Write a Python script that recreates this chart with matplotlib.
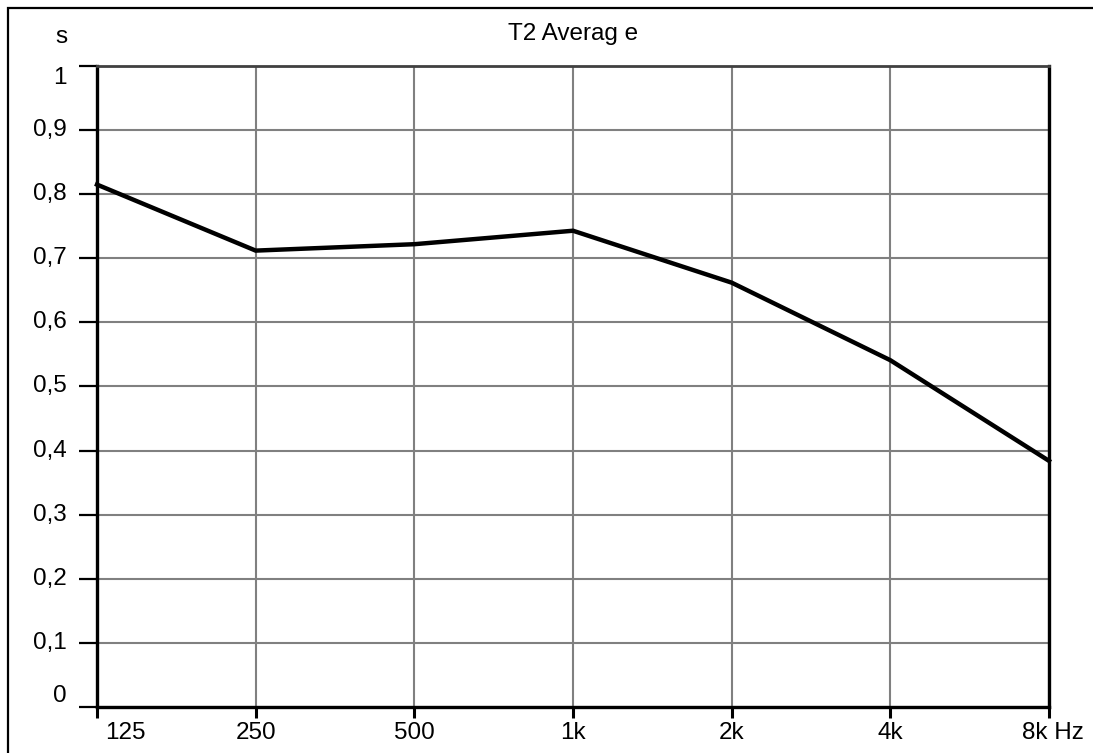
import matplotlib
matplotlib.use("Agg")
import matplotlib.pyplot as plt
from matplotlib.transforms import ScaledTranslation
from matplotlib.patches import Rectangle

plt.rcParams['font.family'] = ['Liberation Sans', 'DejaVu Sans']

# Octave band centre frequencies and averaged T2 reverberation time (s)
bands = ["125", "250", "500", "1k", "2k", "4k", "8k"]
t2_avg = [0.815, 0.712, 0.722, 0.743, 0.662, 0.541, 0.384]
y_ticks = [0, 0.1, 0.2, 0.3, 0.4, 0.5, 0.6, 0.7, 0.8, 0.9, 1.0]
y_tick_labels = ["0", "0,1", "0,2", "0,3", "0,4", "0,5", "0,6", "0,7", "0,8", "0,9", "1"]

W, H, DPI = 1093, 753, 100
FS = 17.5
fig = plt.figure(figsize=(W / DPI, H / DPI), dpi=DPI)
fig.patch.set_facecolor("white")

# outer frame (top and left edges visible)
fig.add_artist(Rectangle((8 / W, -0.1), 1.2, (H - 8) / H + 0.1,
                         transform=fig.transFigure, fill=False,
                         edgecolor="black", linewidth=1.6))

left, right, top, bottom = 97, 1049, 66, 707
ax = fig.add_axes([left / W, (H - bottom) / H, (right - left) / W, (bottom - top) / H])

x = list(range(len(bands)))
ax.set_xlim(0, len(bands) - 1)
ax.set_ylim(0, 1)

ax.set_yticks(y_ticks)
ax.set_yticklabels([])
ax.set_xticks(x)
ax.set_xticklabels([])

ax.grid(True, color="#808080", linewidth=1.5)
ax.set_axisbelow(True)

ax.plot(x, t2_avg, color="black", linewidth=3.2, solid_joinstyle="miter",
        clip_on=False, zorder=5)

for side in ("left", "right", "bottom"):
    ax.spines[side].set_color("black")
    ax.spines[side].set_linewidth(2.4)
ax.spines["top"].set_color("#404040")
ax.spines["top"].set_linewidth(2.0)

ax.tick_params(axis="y", length=13, width=1.6, color="black")
ax.tick_params(axis="x", length=8, width=2.2, color="black")

# y tick labels, end labels nudged to stay inside the plot height
for i, (val, lab) in enumerate(zip(y_ticks, y_tick_labels)):
    dy = 0
    if i == 0:
        dy = 11
    elif i == len(y_ticks) - 1:
        dy = -12
    trans = ax.get_yaxis_transform() + ScaledTranslation(-30 / DPI, dy / DPI, fig.dpi_scale_trans)
    ax.text(0, val, lab, transform=trans, ha="right", va="center", fontsize=FS)

# x tick labels, ends nudged to stay inside the frame
for i, lab in enumerate(bands):
    text = lab
    ha = "center"
    dx = 0
    if i == 0:
        ha, dx = "left", 8
    elif i == len(bands) - 1:
        text, ha, dx = "8k Hz", "left", -27
    trans = ax.get_xaxis_transform() + ScaledTranslation(dx / DPI, -26 / DPI, fig.dpi_scale_trans)
    ax.text(i, 0, text, transform=trans, ha=ha, va="center", fontsize=FS)

fig.text(61 / W, 1 - 37 / H, "s", ha="center", va="center", fontsize=FS)
fig.text((left + right) / 2 / W, 1 - 34 / H, "T2 Averag e",
         ha="center", va="center", fontsize=FS)

fig.savefig("out.png", dpi=DPI, facecolor="white")
